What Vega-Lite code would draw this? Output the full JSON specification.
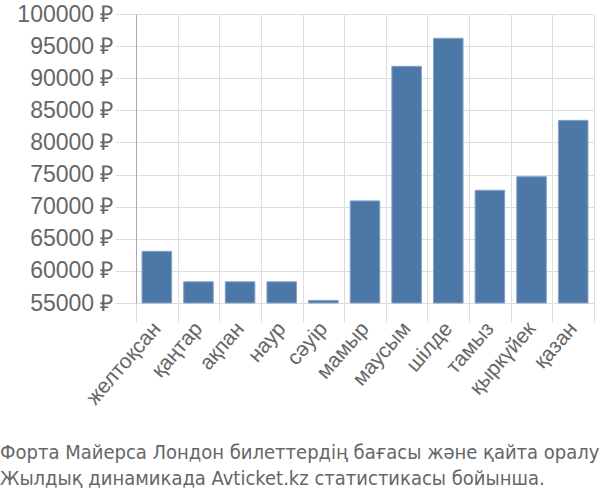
{
  "$schema": "https://vega.github.io/schema/vega-lite/v6.json",
  "autosize": "none",
  "width": 458,
  "height": 289,
  "padding": {"left": 136, "top": 14, "right": 6, "bottom": 197},
  "background": "white",
  "data": {
    "values": [
      {"month": "желтоқсан", "price": 63040},
      {"month": "қаңтар", "price": 58300},
      {"month": "ақпан", "price": 58300},
      {"month": "наур", "price": 58300},
      {"month": "сәуір", "price": 55400},
      {"month": "мамыр", "price": 70900},
      {"month": "маусым", "price": 91850},
      {"month": "шілде", "price": 96220},
      {"month": "тамыз", "price": 72550},
      {"month": "қыркүйек", "price": 74670},
      {"month": "қазан", "price": 83440}
    ]
  },
  "title": {
    "text": ["Форта Майерса Лондон билеттердің бағасы және қайта оралу", "Жылдық динамикада Avticket.kz статистикасы бойынша."],
    "orient": "bottom",
    "anchor": "start",
    "frame": "group",
    "dx": -136,
    "offset": 35,
    "font": "DejaVu Sans Condensed",
    "fontSize": 20,
    "fontWeight": "normal",
    "color": "#666666",
    "lineHeight": 26
  },
  "mark": {"type": "bar", "color": "#4c78a8", "stroke": "#86a2c6", "strokeWidth": 1, "width": {"band": 0.71}},
  "encoding": {
    "x": {
      "field": "month",
      "type": "nominal",
      "sort": null,
      "title": null,
      "scale": {"paddingInner": 0, "paddingOuter": 0},
      "axis": {
        "tickBand": "extent",
        "grid": true,
        "gridColor": "#dddddd",
        "tickColor": "#dddddd",
        "tickSize": 19,
        "domain": false,
        "labelAngle": -49,
        "labelFont": "Liberation Sans",
        "labelFontSize": 21,
        "labelColor": "#666666",
        "labelPadding": 3
      }
    },
    "y": {
      "field": "price",
      "type": "quantitative",
      "title": null,
      "scale": {"domain": [55000, 100000], "zero": false, "clamp": true},
      "axis": {
        "values": [55000, 60000, 65000, 70000, 75000, 80000, 85000, 90000, 95000, 100000],
        "labelExpr": "format(datum.value, 'd') + ' ₽'",
        "grid": true,
        "gridColor": "#dddddd",
        "tickColor": "#dddddd",
        "tickSize": 21,
        "domain": true,
        "domainColor": "#aaaaaa",
        "labelFont": "Liberation Sans",
        "labelFontSize": 23,
        "labelColor": "#666666",
        "labelPadding": 2
      }
    }
  },
  "config": {"view": {"stroke": null}}
}
